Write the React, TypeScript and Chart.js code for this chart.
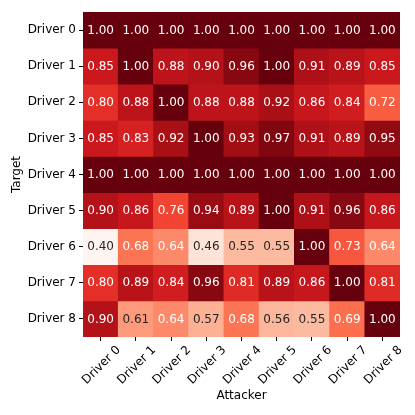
import React, { useEffect, useRef } from 'react';
import { Chart, registerables } from 'chart.js';

Chart.register(...registerables);

const attackers = ['Driver 0', 'Driver 1', 'Driver 2', 'Driver 3', 'Driver 4', 'Driver 5', 'Driver 6', 'Driver 7', 'Driver 8'];
const targets = ['Driver 0', 'Driver 1', 'Driver 2', 'Driver 3', 'Driver 4', 'Driver 5', 'Driver 6', 'Driver 7', 'Driver 8'];

const target0 = [1.0, 1.0, 1.0, 1.0, 1.0, 1.0, 1.0, 1.0, 1.0];
const target1 = [0.85, 1.0, 0.88, 0.9, 0.96, 1.0, 0.91, 0.89, 0.85];
const target2 = [0.8, 0.88, 1.0, 0.88, 0.88, 0.92, 0.86, 0.84, 0.72];
const target3 = [0.85, 0.83, 0.92, 1.0, 0.93, 0.97, 0.91, 0.89, 0.95];
const target4 = [1.0, 1.0, 1.0, 1.0, 1.0, 1.0, 1.0, 1.0, 1.0];
const target5 = [0.9, 0.86, 0.76, 0.94, 0.89, 1.0, 0.91, 0.96, 0.86];
const target6 = [0.4, 0.68, 0.64, 0.46, 0.55, 0.55, 1.0, 0.73, 0.64];
const target7 = [0.8, 0.89, 0.84, 0.96, 0.81, 0.89, 0.86, 1.0, 0.81];
const target8 = [0.9, 0.61, 0.64, 0.57, 0.68, 0.56, 0.55, 0.69, 1.0];

const matrix = [target0, target1, target2, target3, target4, target5, target6, target7, target8];

const VMIN = 0.4;
const VMAX = 1.0;

const REDS = [
  [255, 245, 240],
  [254, 224, 210],
  [252, 187, 161],
  [252, 146, 114],
  [251, 106, 74],
  [239, 59, 44],
  [203, 24, 29],
  [165, 15, 21],
  [103, 0, 13],
];

function redsRGB(v: number): number[] {
  let t = (v - VMIN) / (VMAX - VMIN);
  t = Math.max(0, Math.min(1, t));
  const p = t * (REDS.length - 1);
  const i = Math.min(REDS.length - 2, Math.floor(p));
  const f = p - i;
  const a = REDS[i];
  const b = REDS[i + 1];
  return [0, 1, 2].map((k) => a[k] + (b[k] - a[k]) * f);
}

function rgbStr(c: number[]): string {
  return `rgb(${Math.round(c[0])}, ${Math.round(c[1])}, ${Math.round(c[2])})`;
}

function luminance(c: number[]): number {
  const lin = c.map((x) => {
    const s = x / 255;
    return s <= 0.03928 ? s / 12.92 : Math.pow((s + 0.055) / 1.055, 2.4);
  });
  return 0.2126 * lin[0] + 0.7152 * lin[1] + 0.0722 * lin[2];
}

const FONT = 'DejaVu Sans';
const FS = 12;

const cellLabels = {
  id: 'cellLabels',
  afterDatasetsDraw(chart: any) {
    const ctx = chart.ctx;
    ctx.save();
    ctx.font = `${FS}px "${FONT}"`;
    ctx.textAlign = 'center';
    ctx.textBaseline = 'middle';
    chart.data.datasets.forEach((ds: any, i: number) => {
      const meta = chart.getDatasetMeta(i);
      meta.data.forEach((bar: any, j: number) => {
        const v = matrix[i][j];
        const { x, y, base } = bar.getProps(['x', 'y', 'base'], true);
        const c = redsRGB(v);
        ctx.fillStyle = luminance(c) > 0.408 ? '#262626' : '#ffffff';
        ctx.fillText(v.toFixed(2), x, (y + base) / 2 + 0.5);
      });
    });
    ctx.restore();
  },
};

export default function App() {
  const ref = useRef<HTMLCanvasElement | null>(null);

  useEffect(() => {
    document.body.style.margin = '0';
    const canvas = ref.current;
    if (!canvas) return;
    const datasets = targets.map((name, i) => ({
      label: name,
      data: attackers.map(() => [i, i + 1]),
      backgroundColor: matrix[i].map((v) => rgbStr(redsRGB(v))),
      borderWidth: 0,
      categoryPercentage: 1.0,
      barPercentage: 1.0,
      grouped: false,
    }));

    const chart = new Chart(canvas, {
      type: 'bar',
      data: { labels: attackers, datasets: datasets as any },
      plugins: [cellLabels],
      options: {
        responsive: false,
        animation: false,
        events: [],
        layout: { padding: { top: 12, right: 15, left: 0, bottom: 0 } },
        plugins: {
          legend: { display: false },
          tooltip: { enabled: false },
          title: { display: false },
        },
        scales: {
          x: {
            type: 'category',
            offset: true,
            border: { display: false },
            grid: {
              display: true,
              drawOnChartArea: false,
              drawTicks: true,
              tickLength: 4,
              tickWidth: 1,
              tickColor: '#000000',
              offset: false,
            },
            ticks: {
              color: '#000000',
              font: { family: FONT, size: FS },
              maxRotation: 45,
              minRotation: 45,
              autoSkip: false,
              padding: 2,
              labelOffset: 18,
            },
            title: {
              display: true,
              text: 'Attacker',
              color: '#000000',
              font: { family: FONT, size: FS },
              padding: { top: 4, bottom: 12 },
            },
            afterFit(scale: any) {
              scale.height = 78;
            },
          },
          y: {
            type: 'linear',
            min: 0,
            max: 9,
            reverse: true,
            border: { display: false },
            grid: {
              display: true,
              drawOnChartArea: false,
              drawTicks: true,
              tickLength: 4,
              tickWidth: 1,
              tickColor: '#000000',
            },
            afterBuildTicks(scale: any) {
              scale.ticks = targets.map((_, i) => ({ value: i + 0.5 }));
            },
            ticks: {
              color: '#000000',
              font: { family: FONT, size: FS },
              padding: 3,
              autoSkip: false,
              callback: (_value: any, index: number) => targets[index],
            },
            title: {
              display: true,
              text: 'Target',
              color: '#000000',
              font: { family: FONT, size: FS },
              padding: { top: 10, bottom: 4 },
            },
            afterFit(scale: any) {
              scale.width = 83;
            },
          },
        },
      },
    });
    return () => chart.destroy();
  }, []);

  return <canvas ref={ref} width={415} height={415} style={{ display: 'block' }} />;
}
